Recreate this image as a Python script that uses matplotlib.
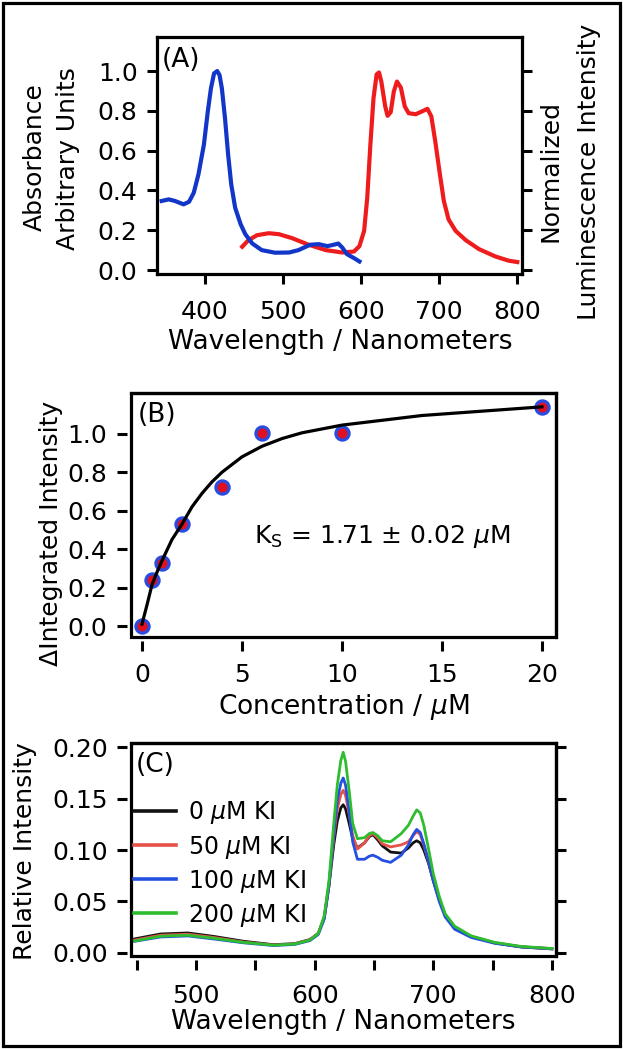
import matplotlib.pyplot as plt
from matplotlib.patches import Rectangle

plt.rcParams["font.family"] = ["DejaVu Sans"]
plt.rcParams["mathtext.fontset"] = "dejavusans"

# (A) absorbance (blue) and normalized luminescence (red)
abs_wl = [345, 354, 362, 373, 380, 386, 392, 399, 404, 408, 412, 416, 419, 422,
          426, 430, 434, 439, 446, 452, 461, 473, 490, 508, 520, 535, 546, 557,
          565, 571, 576, 582, 591, 598]
abs_val = [0.347, 0.355, 0.347, 0.33, 0.343, 0.388, 0.48, 0.63, 0.797, 0.913,
           0.988, 1.0, 0.98, 0.913, 0.763, 0.58, 0.43, 0.313, 0.23, 0.18, 0.133,
           0.10, 0.087, 0.088, 0.10, 0.127, 0.13, 0.12, 0.127, 0.133, 0.113,
           0.08, 0.06, 0.043]
lum_wl = [448, 456, 467, 482, 495, 512, 533, 555, 576, 591, 598, 604, 608, 612,
          616, 620, 623, 626, 631, 634, 638, 642, 646, 651, 656, 661, 670, 678,
          685, 690, 695, 701, 706, 712, 721, 734, 751, 772, 789, 800]
lum_val = [0.117, 0.15, 0.175, 0.185, 0.18, 0.16, 0.127, 0.10, 0.088, 0.093,
           0.12, 0.197, 0.363, 0.63, 0.863, 0.983, 0.993, 0.947, 0.822, 0.775,
           0.793, 0.897, 0.947, 0.917, 0.822, 0.788, 0.783, 0.797, 0.81, 0.772,
           0.647, 0.48, 0.347, 0.255, 0.197, 0.15, 0.105, 0.068, 0.047, 0.04]

# (B) titration points and fitted curve
conc = [0, 0.5, 1, 2, 4, 6, 10, 20]
delta_int = [0.0, 0.24, 0.33, 0.53, 0.725, 1.005, 1.005, 1.14]
fit_conc = [0, 0.25, 0.5, 0.75, 1, 1.5, 2, 2.5, 3, 3.5, 4, 5, 6, 7, 8, 10, 12,
            14, 16, 18, 20]
fit_int = [0.01, 0.11, 0.215, 0.28, 0.34, 0.45, 0.53, 0.62, 0.69, 0.75, 0.80,
           0.88, 0.935, 0.975, 1.005, 1.045, 1.07, 1.095, 1.11, 1.125, 1.14]

# (C) luminescence with KI
wl_c = [448, 470, 493, 515, 540, 565, 583, 596, 603, 608, 612, 616, 619, 622,
        624, 626, 629, 632, 636, 642, 646, 649, 653, 657, 664, 673, 679, 683,
        686, 689, 692, 696, 700, 705, 710, 718, 732, 752, 774, 800]
ki_0 = [0.0136, 0.0184, 0.0194, 0.016, 0.0113, 0.008, 0.009, 0.013, 0.019,
        0.034, 0.065, 0.105, 0.128, 0.141, 0.144, 0.140, 0.126, 0.111, 0.102,
        0.107, 0.113, 0.115, 0.110, 0.104, 0.098, 0.097, 0.102, 0.107, 0.109,
        0.107, 0.100, 0.087, 0.070, 0.052, 0.037, 0.025, 0.016, 0.0097, 0.0058,
        0.0039]
ki_50 = [0.0125, 0.0172, 0.0182, 0.015, 0.0105, 0.0076, 0.0088, 0.0128, 0.019,
         0.035, 0.067, 0.112, 0.140, 0.154, 0.158, 0.153, 0.135, 0.114, 0.101,
         0.107, 0.114, 0.116, 0.112, 0.106, 0.103, 0.105, 0.108, 0.114, 0.118,
         0.115, 0.105, 0.089, 0.071, 0.052, 0.037, 0.025, 0.016, 0.0098, 0.006,
         0.0042]
ki_100 = [0.0113, 0.0155, 0.0165, 0.0135, 0.0098, 0.0072, 0.0082, 0.012, 0.018,
          0.033, 0.066, 0.115, 0.148, 0.165, 0.170, 0.163, 0.138, 0.108, 0.091,
          0.091, 0.094, 0.095, 0.093, 0.090, 0.088, 0.095, 0.105, 0.115, 0.120,
          0.117, 0.106, 0.089, 0.070, 0.050, 0.035, 0.023, 0.015, 0.0093,
          0.0058, 0.004]
ki_200 = [0.0116, 0.0162, 0.0172, 0.0142, 0.0102, 0.0075, 0.0086, 0.0125, 0.019,
          0.036, 0.070, 0.125, 0.163, 0.187, 0.195, 0.186, 0.158, 0.126, 0.111,
          0.112, 0.116, 0.117, 0.114, 0.109, 0.108, 0.116, 0.124, 0.133, 0.139,
          0.136, 0.124, 0.101, 0.077, 0.055, 0.038, 0.026, 0.0165, 0.0102,
          0.0063, 0.0043]
ki_labels = ["0 $\\mu$M KI", "50 $\\mu$M KI", "100 $\\mu$M KI", "200 $\\mu$M KI"]
ki_colors = ["#111111", "#e8504a", "#2350e0", "#2ebd2e"]

W, H = 623, 1049
fig = plt.figure(figsize=(W / 100, H / 100), dpi=100)


def box(l, t, r, b):
    return [l / W, 1 - b / H, (r - l) / W, (b - t) / H]


def ftext(x, y, s, size=18, **kw):
    fig.text(x / W, 1 - y / H, s, ha="center", va="center", size=size, **kw)


def style(ax, xpad, ypad, offset=0):
    for s in ax.spines.values():
        s.set_linewidth(2.3)
    ax.tick_params(direction="out", length=7, width=2.2, labelsize=18)
    ax.tick_params(axis="x", pad=xpad)
    ax.tick_params(axis="y", pad=ypad)
    if offset:
        for side in ("left", "bottom"):
            ax.spines[side].set_position(("outward", offset))
            ax.spines[side].set_linewidth(0)
        ax.add_patch(Rectangle((0, 0), 1, 1, transform=ax.transAxes, fill=False,
                               lw=2.3, clip_on=False, zorder=5))


# Panel A
ax_a = fig.add_axes(box(157, 37, 522, 274))
ax_a.plot(lum_wl, lum_val, color="#ee1c1c", lw=3)
ax_a.plot(abs_wl, abs_val, color="#1236c8", lw=3)
ax_a.set_xlim(339, 806)
ax_a.set_ylim(-0.02, 1.171)
ax_a.set_xticks([400, 500, 600, 700, 800])
ax_a.set_yticks([0, 0.2, 0.4, 0.6, 0.8, 1.0])
ax_a.set_yticklabels([f"{v:.1f}" for v in ax_a.get_yticks()])
style(ax_a, 12, 7)
ax_a.tick_params(axis="y", right=True)
ax_a.text(0.012, 0.903, "(A)", transform=ax_a.transAxes, size=19,
          ha="left", va="center")
ftext(35, 157, "Absorbance", rotation=90)
ftext(68, 159, "Arbitrary Units", rotation=90)
ftext(551, 171, "Normalized", rotation=90)
ftext(589, 172, "Luminescence Intensity", rotation=90)
ftext(340, 342, "Wavelength / Nanometers", size=19)

# Panel B
ax_b = fig.add_axes(box(131, 393, 556, 637))
ax_b.plot(conc, delta_int, "o", ms=9.5, mfc="#e01020", mec="#2a4de0", mew=2.3,
          zorder=2)
ax_b.plot(fit_conc, fit_int, color="black", lw=2.3, zorder=3)
ax_b.set_xlim(-0.55, 20.7)
ax_b.set_ylim(-0.057, 1.212)
ax_b.set_xticks([0, 5, 10, 15, 20])
ax_b.set_yticks([0, 0.2, 0.4, 0.6, 0.8, 1.0])
ax_b.set_yticklabels([f"{v:.1f}" for v in ax_b.get_yticks()])
style(ax_b, 9, 7, offset=3)
ax_b.text(0.016, 0.91, "(B)", transform=ax_b.transAxes, size=19,
          ha="left", va="center")
ax_b.text(0.289, 0.412, "K$_\\mathrm{S}$ = 1.71 \u00b1 0.02 $\\mu$M",
          transform=ax_b.transAxes, size=18, ha="left", va="center")
ftext(51, 533, "\u0394Integrated Intensity", rotation=90)
ftext(344, 707, "Concentration / $\\mu$M", size=19)

# Panel C
ax_c = fig.add_axes(box(131, 743, 556, 956))
for vals, lab, col in zip([ki_0, ki_50, ki_100, ki_200], ki_labels, ki_colors):
    ax_c.plot(wl_c, vals, color=col, lw=2, label=lab)
ax_c.set_xlim(445, 803.5)
ax_c.set_ylim(-0.003, 0.204)
xt = list(range(450, 801, 50))
ax_c.set_xticks(xt)
ax_c.set_xticklabels([str(v) if v % 100 == 0 else "" for v in xt])
ax_c.set_yticks([0, 0.05, 0.10, 0.15, 0.20])
ax_c.set_yticklabels([f"{v:.2f}" for v in ax_c.get_yticks()])
style(ax_c, 10, 6.5, offset=3)
ax_c.tick_params(axis="y", right=True)
ax_c.text(0.012, 0.897, "(C)", transform=ax_c.transAxes, size=19,
          ha="left", va="center")
leg = ax_c.legend(frameon=False, loc="upper left", bbox_to_anchor=(0.007, 0.735),
                  fontsize=17, handlelength=1.8, handletextpad=0.5,
                  labelspacing=0.3, borderaxespad=0, borderpad=0)
for line in leg.get_lines():
    line.set_linewidth(2.6)
ftext(25, 851, "Relative Intensity", rotation=90)
ftext(343, 1022, "Wavelength / Nanometers", size=19)

# outer frame
fig.patches.append(Rectangle((3 / W, 3 / H), 1 - 6 / W, 1 - 6 / H,
                             transform=fig.transFigure, fill=False, lw=2.3,
                             edgecolor="black"))

fig.savefig("out.png", dpi=100)
